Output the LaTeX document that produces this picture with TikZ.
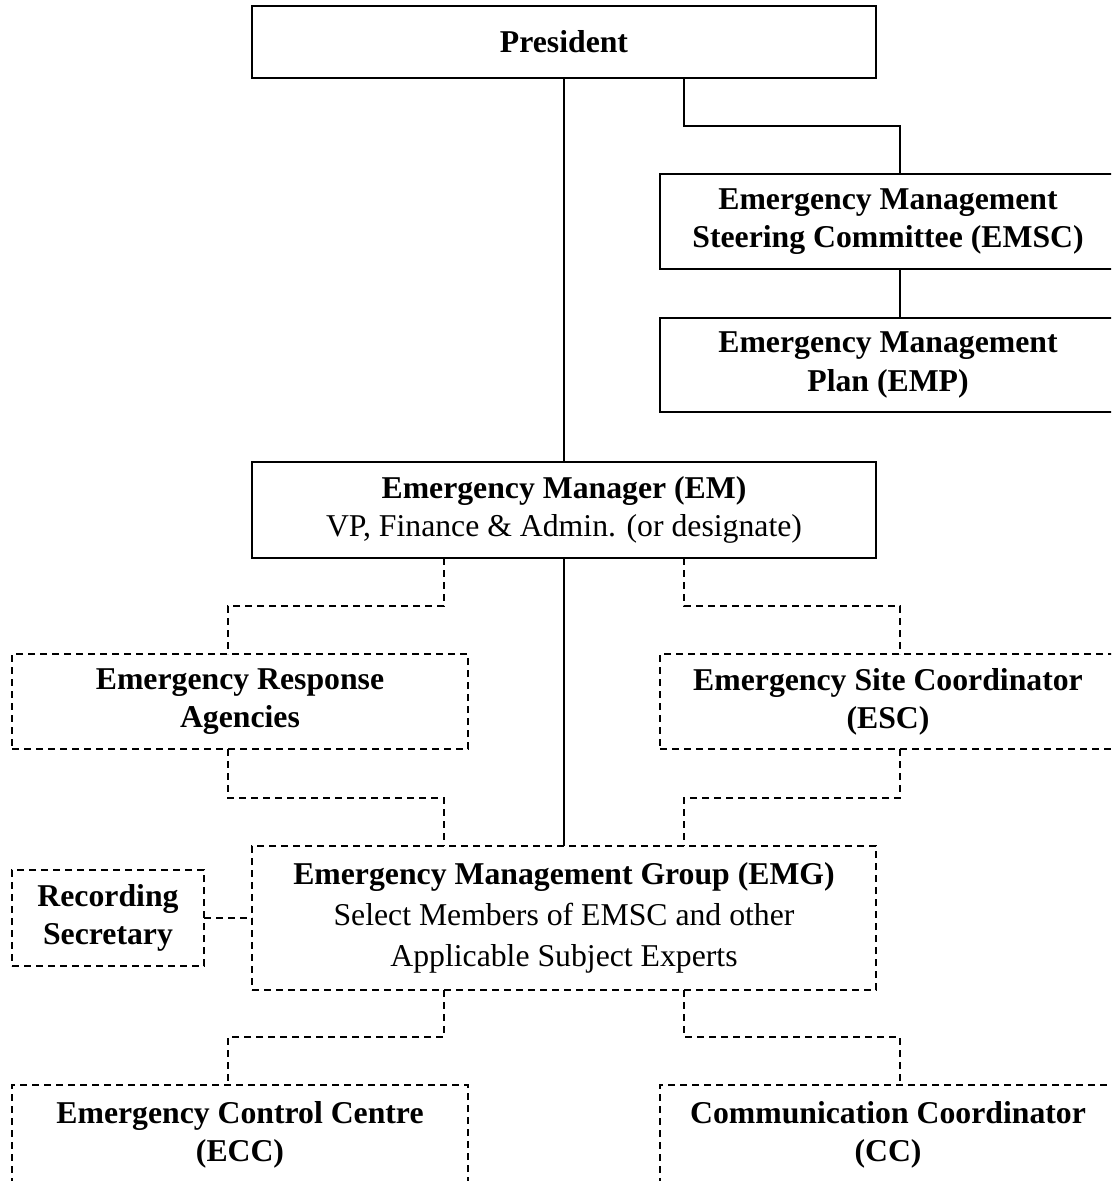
\documentclass[tikz,border=0pt]{standalone}
\usepackage{fontspec}
\setmainfont{Liberation Serif}
\begin{document}
\begin{tikzpicture}[x=0.75pt,y=-0.75pt,
  every node/.style={font=\fontsize{23.8pt}{28.7pt}\selectfont, align=center, inner sep=0pt, outer sep=0pt},
  solidbox/.style 2 args={draw, line width=1.3pt, minimum width=#1*0.75pt, minimum height=#2*0.75pt},
  dashbox/.style 2 args={solidbox={#1}{#2}, dash pattern=on 5.5pt off 3.5pt},
  link/.style={line width=1.3pt},
  dlink/.style={link, dash pattern=on 5.5pt off 3.5pt}]
\path[use as bounding box, clip] (0,0) rectangle (1111,1181);

\node[solidbox={624}{72}] (pres) at (564,42) {\textbf{President}};
\node[solidbox={456}{95}] (emsc) at (888,221.5) {\textbf{Emergency Management}\\\textbf{Steering Committee (EMSC)}};
\node[solidbox={456}{94}] (emp) at (888,365) {\textbf{Emergency Management}\\\textbf{Plan (EMP)}};
\node[solidbox={624}{96}] (em) at (564,510) {\textbf{Emergency Manager (EM)}\\VP, Finance \& Admin. (or designate)};
\node[dashbox={456}{95}] (era) at (240,701.5) {\textbf{Emergency Response}\\\textbf{Agencies}};
\node[dashbox={456}{95}] (esc) at (888,701.5) {\textbf{Emergency Site Coordinator}\\\textbf{(ESC)}};
\node[dashbox={624}{144}] (emg) at (564,918) {\textbf{Emergency Management Group (EMG)}\\[2pt]Select Members of EMSC and other\\[2pt]Applicable Subject Experts};
\node[dashbox={192}{96}] (rs) at (108,918) {\textbf{Recording}\\\textbf{Secretary}};
\node[dashbox={456}{99}] (ecc) at (240,1134.5) {\textbf{Emergency Control Centre}\\\textbf{(ECC)}};
\node[dashbox={456}{99}] (cc) at (888,1134.5) {\textbf{Communication Coordinator}\\\textbf{(CC)}};

% solid connectors
\draw[link] (pres.south) -- (em.north);
\draw[link] ([xshift=90pt]pres.south) -- ++(0,48) -| ([xshift=9pt]emsc.north);
\draw[link] ([xshift=9pt]emsc.south) -- ([xshift=9pt]emp.north);
\draw[link] (em.south) -- (emg.north);

% dashed connectors
\draw[dlink] ([xshift=-90pt]em.south) -- ++(0,48) -| ([xshift=-9pt]era.north);
\draw[dlink] ([xshift=90pt]em.south) -- ++(0,48) -| ([xshift=9pt]esc.north);
\draw[dlink] ([xshift=-9pt]era.south) -- ++(0,49) -| ([xshift=-90pt]emg.north);
\draw[dlink] ([xshift=9pt]esc.south) -- ++(0,49) -| ([xshift=90pt]emg.north);
\draw[dlink] (rs.east) -- (emg.west);
\draw[dlink] ([xshift=-90pt]emg.south) -- ++(0,47) -| ([xshift=-9pt]ecc.north);
\draw[dlink] ([xshift=90pt]emg.south) -- ++(0,47) -| ([xshift=9pt]cc.north);
\end{tikzpicture}
\end{document}
